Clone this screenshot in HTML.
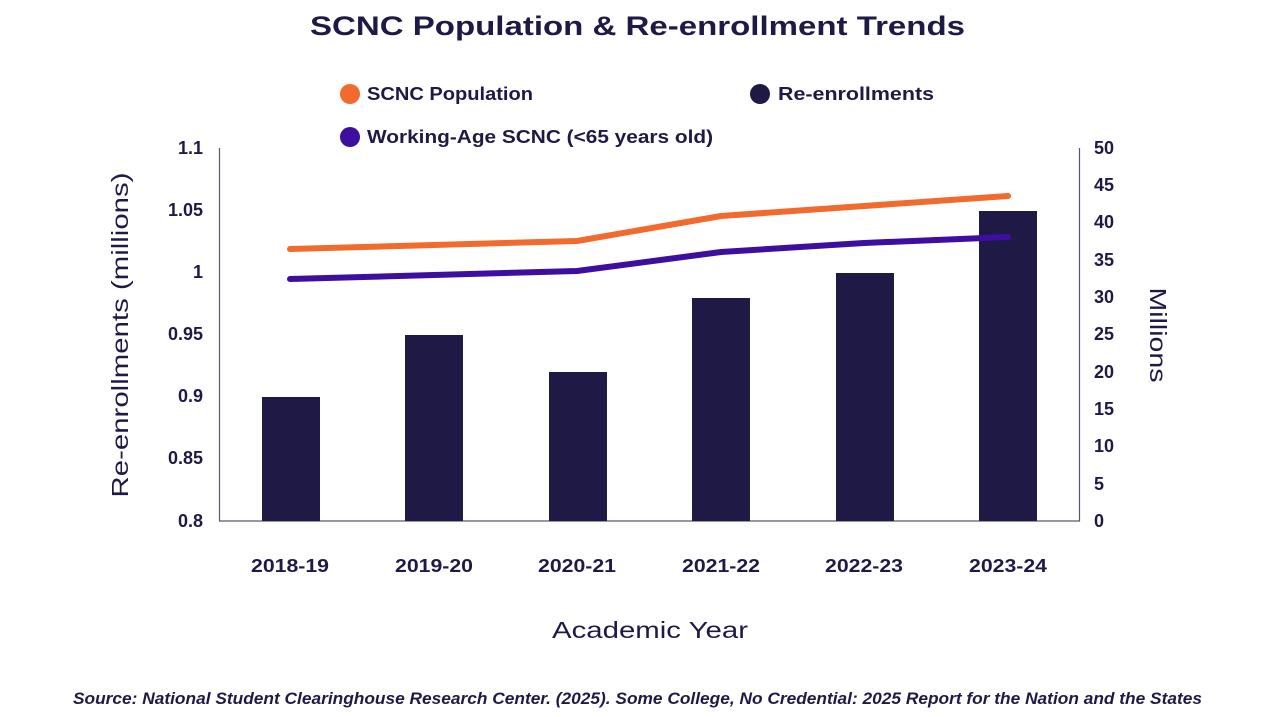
<!DOCTYPE html>
<html><head><meta charset="utf-8"><style>
html,body{margin:0;padding:0;background:#fff;width:1275px;height:717px;overflow:hidden}
svg text{font-family:"Liberation Sans",sans-serif;fill:#1f1a45}
</style></head><body>
<svg width="1275" height="717" viewBox="0 0 1275 717" xmlns="http://www.w3.org/2000/svg">
<text x="310" y="35" font-size="27" font-weight="bold" textLength="655" lengthAdjust="spacingAndGlyphs">SCNC Population &amp; Re-enrollment Trends</text>
<circle cx="350" cy="94" r="10" fill="#f26a2e"/>
<text x="367" y="100" font-size="18" font-weight="bold" textLength="166" lengthAdjust="spacingAndGlyphs">SCNC Population</text>
<circle cx="760" cy="94" r="10" fill="#1f1a45"/>
<text x="778" y="100" font-size="18" font-weight="bold" textLength="156" lengthAdjust="spacingAndGlyphs">Re-enrollments</text>
<circle cx="350" cy="137" r="10" fill="#3d0ea0"/>
<text x="367" y="143" font-size="18" font-weight="bold" textLength="346" lengthAdjust="spacingAndGlyphs">Working-Age SCNC (&lt;65 years old)</text>
<line x1="219.5" y1="148" x2="219.5" y2="521" stroke="#5a5670" stroke-width="1.2"/>
<line x1="1079.5" y1="148" x2="1079.5" y2="521" stroke="#5a5670" stroke-width="1.2"/>
<line x1="219" y1="521" x2="1080" y2="521" stroke="#5a5670" stroke-width="1.2"/>
<g font-size="18" font-weight="bold" text-anchor="end">
<text x="203" y="154">1.1</text><text x="203" y="216">1.05</text><text x="203" y="278">1</text>
<text x="203" y="340">0.95</text><text x="203" y="402">0.9</text><text x="203" y="464">0.85</text><text x="203" y="527">0.8</text>
</g>
<g font-size="18" font-weight="bold">
<text x="1094" y="154">50</text><text x="1094" y="191">45</text><text x="1094" y="228">40</text><text x="1094" y="266">35</text>
<text x="1094" y="303">30</text><text x="1094" y="340">25</text><text x="1094" y="378">20</text><text x="1094" y="415">15</text>
<text x="1094" y="452">10</text><text x="1094" y="490">5</text><text x="1094" y="527">0</text>
</g>
<g fill="#1f1a45">
<rect x="262" y="397" width="58" height="124"/><rect x="405" y="335" width="58" height="186"/>
<rect x="549" y="372" width="58" height="149"/><rect x="692" y="298" width="58" height="223"/>
<rect x="836" y="273" width="58" height="248"/><rect x="979" y="211" width="58" height="310"/>
</g>
<polyline points="290,249 434,245 577,241 721,216 864,206 1008,196" fill="none" stroke="#f26a2e" stroke-width="6" stroke-linecap="round" stroke-linejoin="round"/>
<polyline points="290,279 434,275 577,271 721,252 864,243 1008,237" fill="none" stroke="#3d0ea0" stroke-width="6" stroke-linecap="round" stroke-linejoin="round"/>
<g font-size="18" font-weight="bold" text-anchor="middle">
<text x="290" y="572" textLength="78" lengthAdjust="spacingAndGlyphs">2018-19</text><text x="434" y="572" textLength="78" lengthAdjust="spacingAndGlyphs">2019-20</text><text x="577" y="572" textLength="78" lengthAdjust="spacingAndGlyphs">2020-21</text>
<text x="721" y="572" textLength="78" lengthAdjust="spacingAndGlyphs">2021-22</text><text x="864" y="572" textLength="78" lengthAdjust="spacingAndGlyphs">2022-23</text><text x="1008" y="572" textLength="78" lengthAdjust="spacingAndGlyphs">2023-24</text>
</g>
<text x="650" y="638" text-anchor="middle" font-size="23" textLength="196" lengthAdjust="spacingAndGlyphs">Academic Year</text>
<text transform="translate(128,335) rotate(-90)" text-anchor="middle" font-size="23" textLength="325" lengthAdjust="spacingAndGlyphs">Re-enrollments (millions)</text>
<text transform="translate(1150,335) rotate(90)" text-anchor="middle" font-size="23" textLength="95" lengthAdjust="spacingAndGlyphs">Millions</text>
<text x="73" y="704" font-size="17" font-style="italic" font-weight="bold" textLength="1129" lengthAdjust="spacingAndGlyphs">Source: National Student Clearinghouse Research Center. (2025). Some College, No Credential: 2025 Report for the Nation and the States</text>
</svg>
</body></html>
